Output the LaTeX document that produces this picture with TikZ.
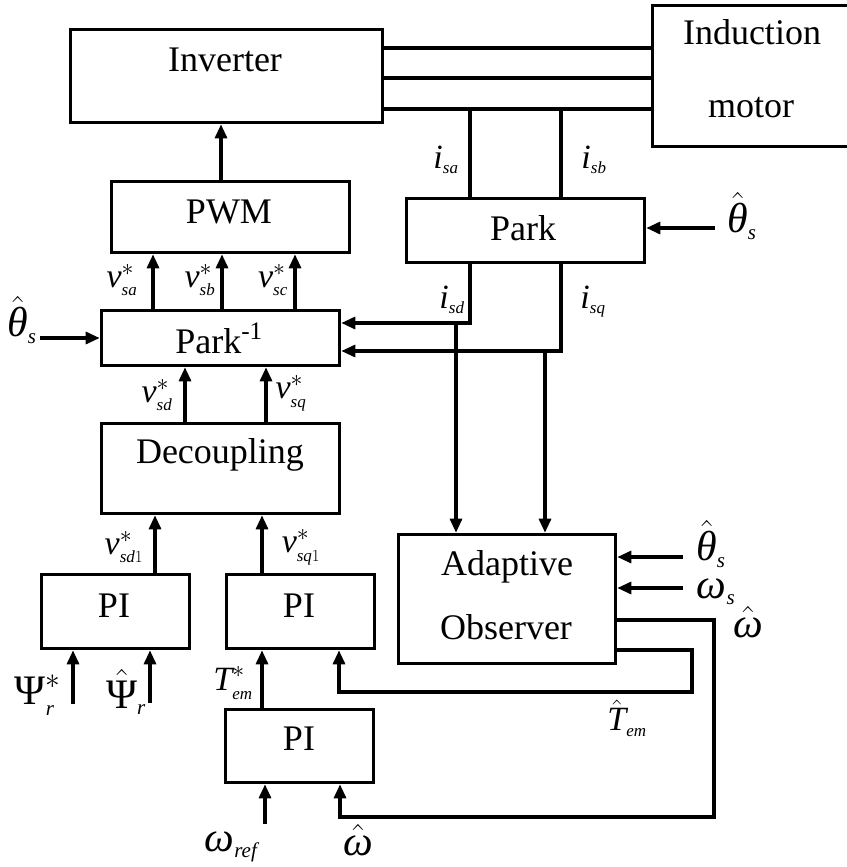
\RequirePackage{fix-cm}
\documentclass[tikz,border=0pt]{standalone}
\usepackage{amsmath}
\usepackage{fontspec}
\setmainfont{Liberation Serif}
\usetikzlibrary{arrows.meta}

% italic variable names in the text face; small subscripts
\newcommand\tv[1]{\textit{#1}}
\newcommand\sv[1]{{\scriptscriptstyle\textit{#1}}}

\begin{document}
\begin{tikzpicture}[x=1pt,y=-1pt,
  box/.style 2 args={draw,line width=3.6pt,minimum width=#1,minimum height=#2,inner sep=0pt},
  wire/.style={line width=3.1pt},
  arr/.style={wire,-{Triangle[length=14pt,width=12pt]}},
  txt/.style={inner sep=0pt,anchor=base,font={\fontsize{36}{40}\selectfont}},
  lab/.style={inner sep=0pt,font={\fontsize{34}{36}\selectfont}},
  glab/.style={inner sep=0pt,font={\fontsize{42}{44}\selectfont}}]

\fill[white] (0,0) rectangle (846,867);
\useasboundingbox (0,0) rectangle (846,867);

% blocks
\node[box={312}{93}]  (inv)   at (226.5,76)  {};
\node[box={200}{141}] (motor) at (752.5,76)  {};
\node[box={238}{64}]  (park)  at (525.5,230.5) {};
\node[box={238}{71}]  (pwm)   at (230.5,217) {};
\node[box={238}{55}]  (pinv)  at (220.5,338) {};
\node[box={238}{90}]  (dec)   at (220.5,468.5) {};
\node[box={148}{74}]  (pia)   at (115.5,611.5) {};
\node[box={148}{74}]  (pib)   at (300.5,611.5) {};
\node[box={148}{73}]  (pic)   at (299.5,746) {};
\node[box={217}{129}] (obs)   at (507,599) {};

% block captions
\node[txt] (tinv)  at (225,71)  {Inverter};
\node[txt] (tmot1) at (752,45)  {Induction};
\node[txt] (tmot2) at (751,117) {motor};
\node[txt] (tpwm)  at (229,223) {PWM};
\node[txt] (tpark) at (523,240) {Park};
\node[txt] (tpinv) at (219,353) {Park\textsuperscript{-1}};
\node[txt] (tdec)  at (220,463) {Decoupling};
\node[txt] (tpia)  at (114,617) {PI};
\node[txt] (tpib)  at (299,617) {PI};
\node[txt] (tpic)  at (299,750) {PI};
\node[txt] (tobs1) at (507,575) {Adaptive};
\node[txt] (tobs2) at (506,639) {Observer};

% three-phase supply lines
\coordinate (w1) at (400,48);
\coordinate (w2) at (400,78);
\coordinate (w3) at (400,109);
\draw[wire] (inv.east |- w1) -- (motor.west |- w1);
\draw[wire] (inv.east |- w2) -- (motor.west |- w2);
\draw[wire] (inv.east |- w3) -- (motor.west |- w3);

% measured currents into Park
\coordinate (ja) at (470,109);
\coordinate (jb) at (561,109);
\draw[wire] (ja) -- (ja |- park.north);
\draw[wire] (jb) -- (jb |- park.north);
\node[lab] (lisa) at (446,160) {$\tv{i}_{\sv{sa}}$};
\node[lab] (lisb) at (594,160) {$\tv{i}_{\sv{sb}}$};

% angle into Park
\coordinate (th1) at (715,228);
\draw[arr] (th1) -- (th1 -| park.east);
\node[glab] (lth1) at (742,216) {$\hat{\tv{θ}}_{\sv{s}}$};

% PWM to inverter
\draw[arr] ([xshift=-9.5pt]pwm.north) -- ([xshift=-9.5pt]pwm.north |- inv.south);

% voltage references into PWM
\draw[arr] ([xshift=-67.5pt]pinv.north) -- ([xshift=-67.5pt]pinv.north |- pwm.south);
\draw[arr] ([xshift=1.5pt]pinv.north)   -- ([xshift=1.5pt]pinv.north |- pwm.south);
\draw[arr] ([xshift=74.5pt]pinv.north)  -- ([xshift=74.5pt]pinv.north |- pwm.south);
\node[lab] (lvsa) at (122,280) {$\tv{v}^{*}_{\sv{sa}}$};
\node[lab] (lvsb) at (200,280) {$\tv{v}^{*}_{\sv{sb}}$};
\node[lab] (lvsc) at (273,280) {$\tv{v}^{*}_{\sv{sc}}$};

% angle into inverse Park
\coordinate (th2) at (40,338);
\draw[arr] (th2) -- (th2 -| pinv.west);
\node[glab] (lth2) at (22,320) {$\hat{\tv{θ}}_{\sv{s}}$};

% d-q currents
\coordinate (kd)  at (470,323);
\coordinate (kd2) at (456,323);
\coordinate (kq)  at (561,351);
\coordinate (kq2) at (545,351);
\draw[arr] (park.south -| kd) -- (kd) -- (kd -| pinv.east);
\draw[arr] (park.south -| kq) -- (kq) -- (kq -| pinv.east);
\draw[arr] (kd2) -- (kd2 |- obs.north);
\draw[arr] (kq2) -- (kq2 |- obs.north);
\node[lab] (lisd) at (452,300) {$\tv{i}_{\sv{sd}}$};
\node[lab] (lisq) at (593,302) {$\tv{i}_{\sv{sq}}$};

% decoupling to inverse Park
\draw[arr] ([xshift=-35.5pt]dec.north) -- ([xshift=-35.5pt]dec.north |- pinv.south);
\draw[arr] ([xshift=45.5pt]dec.north)  -- ([xshift=45.5pt]dec.north |- pinv.south);
\node[lab] (lvsd) at (157,395) {$\tv{v}^{*}_{\sv{sd}}$};
\node[lab] (lvsq) at (291,393) {$\tv{v}^{*}_{\sv{sq}}$};

% PI outputs into decoupling
\draw[arr] ([xshift=39.5pt]pia.north)  -- ([xshift=39.5pt]pia.north |- dec.south);
\draw[arr] ([xshift=-38.5pt]pib.north) -- ([xshift=-38.5pt]pib.north |- dec.south);
\node[lab] (lvsd1) at (124,547) {$\tv{v}^{*}_{\sv{sd}\scriptscriptstyle 1}$};
\node[lab] (lvsq1) at (301,547) {$\tv{v}^{*}_{\sv{sq}\scriptscriptstyle 1}$};

% flux inputs
\coordinate (ps1) at (73,704);
\coordinate (ps2) at (150,703);
\draw[arr] (ps1) -- (ps1 |- pia.south);
\draw[arr] (ps2) -- (ps2 |- pia.south);
\node[glab] (lps1) at (38,695)  {$\text{Ψ}^{*}_{\sv{r}}$};
\node[glab] (lps2) at (126,692) {$\hat{\text{Ψ}}_{\sv{r}}$};

% torque reference
\draw[arr] ([xshift=-37.5pt]pic.north) -- ([xshift=-37.5pt]pic.north |- pib.south);
\node[lab] (ltem) at (233,683) {$\tv{T}^{*}_{\sv{em}}$};

% speed reference
\coordinate (wr) at (265,824);
\draw[arr] (wr) -- (wr |- pic.south);
\node[glab] (lwr) at (231,847) {$\tv{ω}_{\sv{ref}}$};

% observer inputs
\coordinate (oi1) at (683,557);
\coordinate (oi2) at (683,588);
\draw[arr] (oi1) -- (oi1 -| obs.east);
\draw[arr] (oi2) -- (oi2 -| obs.east);
\node[glab] (lth3) at (711,544) {$\hat{\tv{θ}}_{\sv{s}}$};
\node[glab] (lws)  at (716,592) {$\tv{ω}_{\sv{s}}$};

% estimated speed feedback
\coordinate (wo) at (714,620);
\coordinate (wb) at (340,817);
\draw[arr] (obs.east |- wo) -- (wo) |- (wb) -- (wb |- pic.south);
\node[glab] (lwh1) at (748,622) {$\hat{\tv{ω}}$};
\node[glab] (lwh2) at (358,840) {$\hat{\tv{ω}}$};

% estimated torque feedback
\coordinate (to) at (692,650);
\coordinate (tb) at (339,692);
\draw[arr] (obs.east |- to) -- (to) |- (tb) -- (tb |- pib.south);
\node[lab] (lth) at (627,718) {$\hat{\tv{T}}_{\sv{em}}$};

\end{tikzpicture}
\end{document}
